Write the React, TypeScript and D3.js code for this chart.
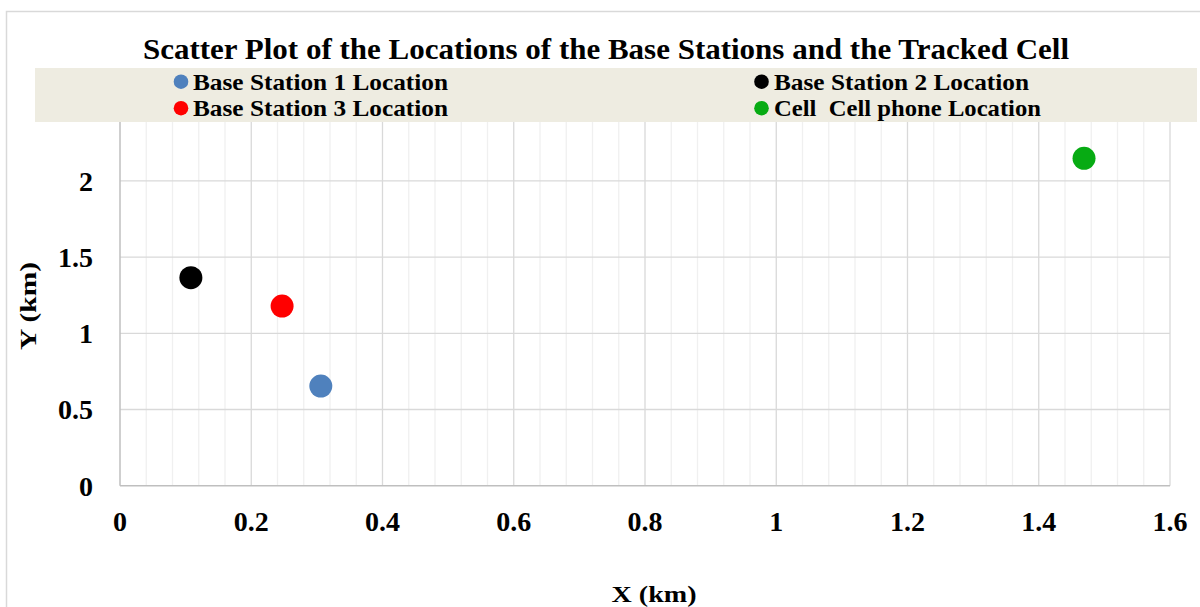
import React from "react";
import * as d3 from "d3";

const seriesNames = [
  "Base Station 1 Location",
  "Base Station 2 Location",
  "Base Station 3 Location",
  "Cell  Cell phone Location",
];
const seriesColors = ["#4F81BD", "#000000", "#FF0000", "#07AB13"];
const xValues = [0.306, 0.108, 0.247, 1.469];
const yValues = [0.654, 1.365, 1.179, 2.148];

const xTicks = [0, 0.2, 0.4, 0.6, 0.8, 1, 1.2, 1.4, 1.6];
const yTicks = [0, 0.5, 1, 1.5, 2];

const title = "Scatter Plot of the Locations of the Base Stations and the Tracked Cell";
const xTitle = "X (km)";
const yTitle = "Y (km)";

const W = 1200;
const H = 607;
const FONT = "'Liberation Serif', 'Times New Roman', serif";

export default function App() {
  const x = d3.scaleLinear().domain([0, 1.6]).range([120, 1170]);
  const y = d3.scaleLinear().domain([0, 2.5]).range([485.7, 104.7]);
  const minorX = d3.range(0, 1.6001, 0.04).filter((v) => Math.abs(Math.round(v / 0.2) * 0.2 - v) > 1e-6);
  const majorY = [0.5, 1, 1.5, 2, 2.5];
  const majorX = [0.2, 0.4, 0.6, 0.8, 1, 1.2, 1.4, 1.6];

  const legendPos = [
    { cx: 181, cy: 81.7, tx: 193, ty: 89.5, len: 255 },
    { cx: 761.5, cy: 81.7, tx: 774, ty: 89.5, len: 255 },
    { cx: 181, cy: 108.2, tx: 193, ty: 116, len: 255 },
    { cx: 761.5, cy: 108.2, tx: 774, ty: 116, len: 267 },
  ];

  return (
    <svg
      width={W}
      height={H}
      style={{ position: "absolute", left: 0, top: 0, background: "#fff" }}
      fontFamily={FONT}
    >
      <rect x={0} y={0} width={W} height={H} fill="#fff" />
      <rect x={6.5} y={11.5} width={1300} height={700} fill="#fff" stroke="#d9d9d9" strokeWidth={1.5} />

      {minorX.map((v, i) => (
        <line key={"mx" + i} x1={x(v)} x2={x(v)} y1={y(2.5)} y2={y(0)} stroke="#f0f0f0" strokeWidth={1.3} />
      ))}
      {majorX.map((v, i) => (
        <line key={"Mx" + i} x1={x(v)} x2={x(v)} y1={y(2.5)} y2={y(0)} stroke="#d9d9d9" strokeWidth={1.3} />
      ))}
      {majorY.map((v, i) => (
        <line key={"My" + i} x1={x(0)} x2={x(1.6)} y1={y(v)} y2={y(v)} stroke="#d9d9d9" strokeWidth={1.3} />
      ))}
      <line x1={x(0)} x2={x(0)} y1={y(2.5)} y2={y(0)} stroke="#bfbfbf" strokeWidth={1.5} />
      <line x1={x(0)} x2={x(1.6)} y1={y(0)} y2={y(0)} stroke="#bfbfbf" strokeWidth={1.5} />

      {xValues.map((v, i) => (
        <circle key={"p" + i} cx={x(v)} cy={y(yValues[i])} r={11.5} fill={seriesColors[i]} />
      ))}

      <rect x={35} y={68} width={1162} height={54} fill="#EEECE1" />
      {seriesNames.map((name, i) => (
        <g key={"lg" + i}>
          <circle cx={legendPos[i].cx} cy={legendPos[i].cy} r={7.3} fill={seriesColors[i]} />
          <text
            x={legendPos[i].tx}
            y={legendPos[i].ty}
            fontSize={23}
            fontWeight="bold"
            fill="#000"
            textLength={legendPos[i].len}
            lengthAdjust="spacingAndGlyphs"
            style={{ whiteSpace: "pre" }}
          >
            {name}
          </text>
        </g>
      ))}

      <text
        x={606}
        y={59}
        textAnchor="middle"
        fontSize={30}
        fontWeight="bold"
        fill="#000"
        textLength={926}
        lengthAdjust="spacingAndGlyphs"
      >
        {title}
      </text>

      {yTicks.map((v, i) => (
        <text key={"yt" + i} x={93} y={y(v)} dy="0.35em" textAnchor="end" fontSize={28} fontWeight="bold" fill="#000">
          {String(v)}
        </text>
      ))}
      {xTicks.map((v, i) => (
        <text key={"xt" + i} x={x(v)} y={530.5} textAnchor="middle" fontSize={28} fontWeight="bold" fill="#000">
          {String(v)}
        </text>
      ))}

      <text
        transform={`translate(36,306) rotate(-90)`}
        textAnchor="middle"
        fontSize={24}
        fontWeight="bold"
        fill="#000"
        textLength={88}
        lengthAdjust="spacingAndGlyphs"
      >
        {yTitle}
      </text>
      <text
        x={654}
        y={602}
        textAnchor="middle"
        fontSize={24}
        fontWeight="bold"
        fill="#000"
        textLength={85}
        lengthAdjust="spacingAndGlyphs"
      >
        {xTitle}
      </text>
    </svg>
  );
}
